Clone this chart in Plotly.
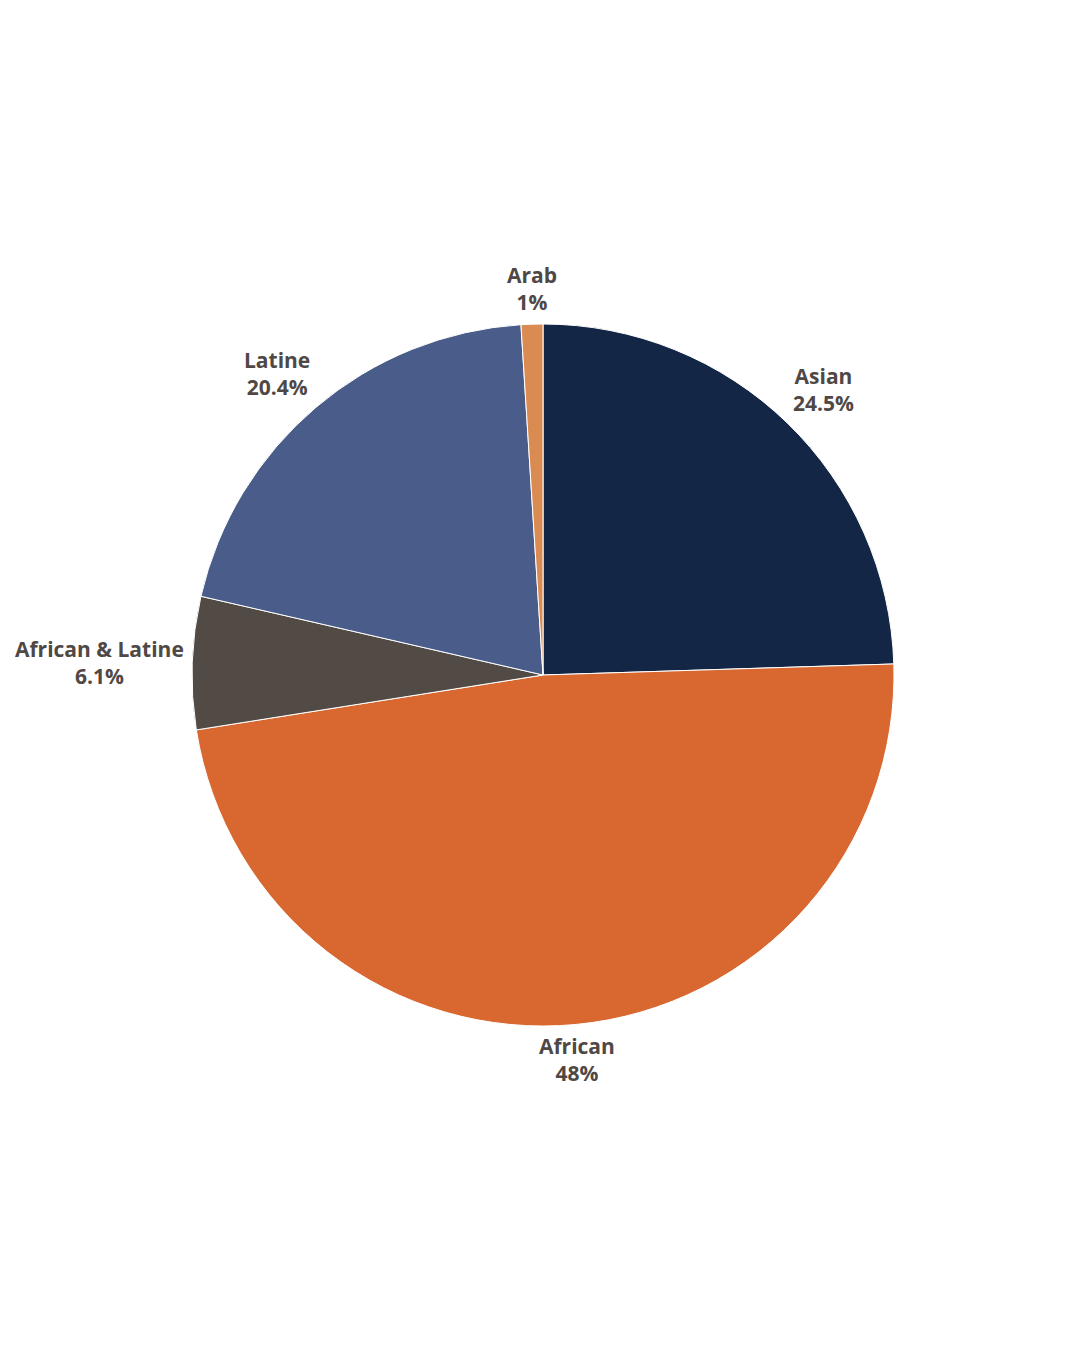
import math
import plotly.graph_objects as go

labels = ['Asian', 'African', 'African & Latine', 'Latine', 'Arab']
values = [24.5, 48.0, 6.1, 20.4, 1.0]
colors = ['#142645', '#d86830', '#524a45', '#4a5c8a', '#d98b52']

W, H = 1080, 1350
ML, MR, MT, MB = 184, 194, 316, 332
plot_px = W - ML - MR  # pie diameter in px

fig = go.Figure(go.Pie(
    labels=labels, values=values, sort=False, direction='clockwise', rotation=0,
    marker=dict(colors=colors, line=dict(color='white', width=1)),
    textinfo='none', hoverinfo='label+percent', showlegend=False,
))

# outside labels: the label box corner facing the centre sits just outside the rim
total = sum(values)
cum = 0
r = 358 / plot_px
for lab, v in zip(labels, values):
    mid = (cum + v / 2) / total * 2 * math.pi
    cum += v
    s, c = math.sin(mid), math.cos(mid)
    xanchor = 'center' if abs(s) < 0.3 else ('left' if s > 0 else 'right')
    yanchor = 'middle' if abs(c) < 0.3 else ('bottom' if c > 0 else 'top')
    fig.add_annotation(
        x=0.5 + r * s, y=0.5 + r * c, xref='paper', yref='paper',
        text=f'<b>{lab}</b><br><b>{v:g}%</b>', showarrow=False,
        xanchor=xanchor, yanchor=yanchor, borderpad=0,
        font=dict(family='Open Sans', size=21, color='#4f4845'),
    )

fig.update_layout(
    width=W, height=H, paper_bgcolor='white', plot_bgcolor='white',
    margin=dict(l=ML, r=MR, t=MT, b=MB),
)
fig.write_html('out.html')
